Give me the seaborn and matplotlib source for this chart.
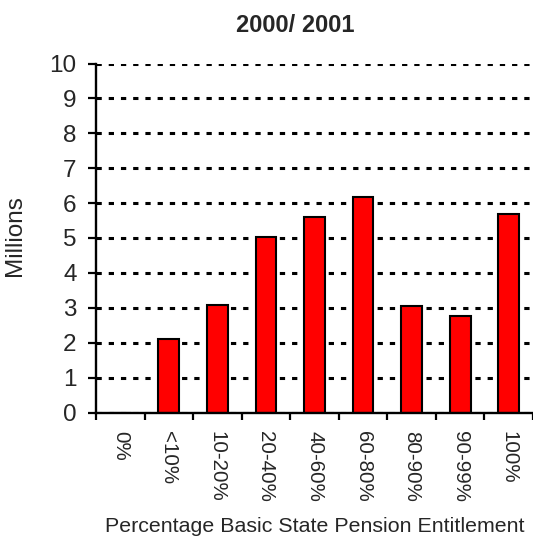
import matplotlib
matplotlib.use("Agg")
import matplotlib.pyplot as plt
from matplotlib.ticker import FixedLocator, NullFormatter
import seaborn as sns
import pandas as pd

# Number of pensioners by share of basic State Pension entitlement, 2000/2001
categories = ["0%", "<10%", "10-20%", "20-40%", "40-60%", "60-80%", "80-90%", "90-99%", "100%"]
millions = [0.0, 2.11, 3.09, 5.04, 5.61, 6.18, 3.04, 2.76, 5.68]
y_ticks = [0, 1, 2, 3, 4, 5, 6, 7, 8, 9, 10]

sns.set_style("white")
plt.rcParams["font.family"] = ["Liberation Sans", "DejaVu Sans"]
plt.rcParams["lines.scale_dashes"] = False

W, H = 533, 541
fig = plt.figure(figsize=(W / 100, H / 100), dpi=100)
ax = fig.add_axes([96 / W, 1 - 412.5 / H, (533 - 96) / W, (412.5 - 63.5) / H])

df = pd.DataFrame({"band": categories, "millions": millions})
sns.barplot(data=df, x="band", y="millions", order=categories, color="#ff0000",
            saturation=1, width=0.43, edgecolor="black", linewidth=1.5, ax=ax, zorder=3)

ax.set_xlim(-0.5, len(categories) - 0.5)
ax.set_ylim(0, 10)
ax.set_yticks(y_ticks)
ax.set_yticklabels([str(t) for t in y_ticks])

# dotted horizontal grid below the bars
ax.yaxis.grid(True, color="black", linewidth=2.2, linestyle=(0, (3.8, 5.0)), zorder=0)
ax.xaxis.grid(False)
ax.set_axisbelow(True)

for side in ["top", "right"]:
    ax.spines[side].set_visible(False)
for side in ["left", "bottom"]:
    ax.spines[side].set_color("black")
    ax.spines[side].set_linewidth(1.7)
    ax.spines[side].set_zorder(4)

# category labels at bar centres, tick marks at the category boundaries
ax.tick_params(axis="x", which="major", length=0, pad=13, labelsize=14.8, labelrotation=270)
ax.xaxis.set_minor_locator(FixedLocator([i - 0.5 for i in range(len(categories) + 1)]))
ax.xaxis.set_minor_formatter(NullFormatter())
ax.tick_params(axis="x", which="minor", length=5, width=1.6, color="black", bottom=True)
for lbl in ax.get_xticklabels():
    lbl.set_va("top")
    lbl.set_ha("center")
ax.tick_params(axis="y", which="major", length=6, width=1.6, color="black", left=True,
               pad=8, labelsize=17.5)

ax.set_xlabel("")
ax.set_ylabel("")

fig.text(295 / W, 1 - 32 / H, "2000/ 2001", ha="center", va="baseline",
         fontsize=17, fontweight="bold")
fig.text(15 / W, 1 - 236 / H, "Millions", rotation=90, ha="center", va="center",
         fontsize=17.5)
fig.text(315 / W, 1 - 532 / H, "Percentage Basic State Pension Entitlement",
         ha="center", va="baseline", fontsize=15.4)

fig.savefig("out.png", dpi=100)
